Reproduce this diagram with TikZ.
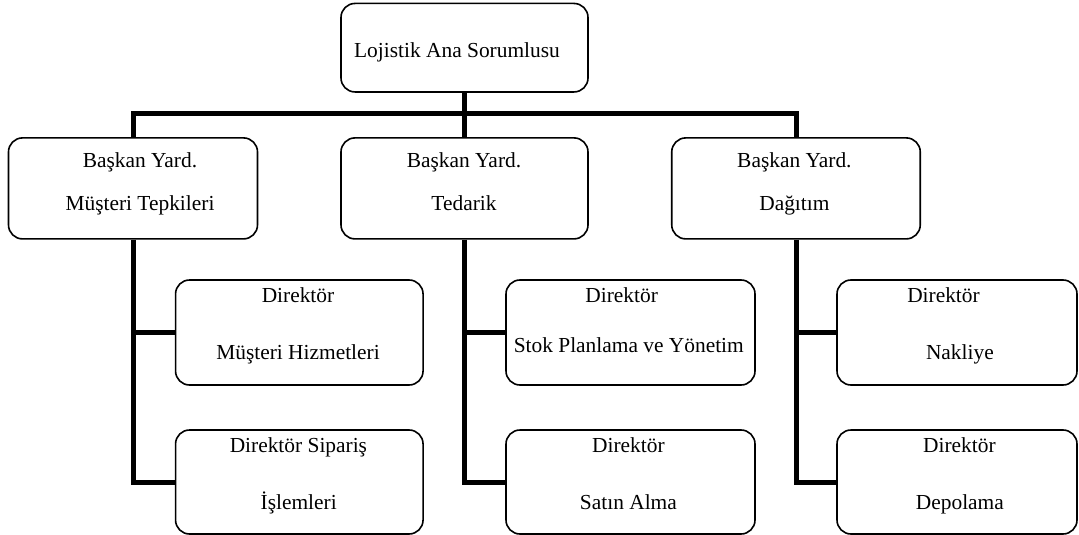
\documentclass[tikz,border=0pt]{standalone}
\usepackage{fontspec}
\setmainfont{Liberation Serif}
\begin{document}
\begin{tikzpicture}[x=1pt,y=-1pt,
  box/.style={draw, line width=1.6pt, rounded corners=14pt, inner sep=0pt, fill=white},
  conn/.style={line width=5pt, line join=miter},
  txt/.style={inner sep=0pt, font=\fontsize{21.4}{25}\selectfont, text height=0.8em, text depth=0.12em}]
\useasboundingbox[fill=white] (0,0) rectangle (1079,535);

% top
\node[box, minimum width=247pt, minimum height=88.5pt] (top) at (464.5,47.7) {};
% level 2
\node[box, minimum width=249pt, minimum height=101pt] (va) at (133,188.4) {};
\node[box, minimum width=247pt, minimum height=101pt] (vb) at (464.5,188.4) {};
\node[box, minimum width=248.5pt, minimum height=101pt] (vc) at (796,188.4) {};
% level 3
\node[box, minimum width=247.5pt, minimum height=105pt] (a1) at (299.3,332.5) {};
\node[box, minimum width=247.5pt, minimum height=104pt] (a2) at (299.3,482) {};
\node[box, minimum width=249pt, minimum height=105pt] (b1) at (630.5,332.5) {};
\node[box, minimum width=249pt, minimum height=104pt] (b2) at (630.5,482) {};
\node[box, minimum width=240pt, minimum height=105pt] (c1) at (957,332.5) {};
\node[box, minimum width=240pt, minimum height=104pt] (c2) at (957,482) {};

% connectors
\coordinate (bus) at (0,113);
\draw[conn] (top.south) -- (vb.north);
\draw[conn] (va.north) -- (va.north |- bus) -- (vc.north |- bus) -- (vc.north);
\draw[conn] (va.south) -- (va.south |- a2.west) -- (a2.west);
\draw[conn] (va.south |- a1.west) -- (a1.west);
\draw[conn] (vb.south) -- (vb.south |- b2.west) -- (b2.west);
\draw[conn] (vb.south |- b1.west) -- (b1.west);
\draw[conn] (vc.south) -- (vc.south |- c2.west) -- (c2.west);
\draw[conn] (vc.south |- c1.west) -- (c1.west);

% texts
\node[txt] (t0) at (457,54) {Lojistik Ana Sorumlusu};
\node[txt] (ta1) at (140,164) {Başkan Yard.};
\node[txt] (ta2) at (140,207.5) {Müşteri Tepkileri};
\node[txt] (tb1) at (464,164) {Başkan Yard.};
\node[txt] (tb2) at (464,207.5) {Tedarik};
\node[txt] (tc1) at (794.4,164) {Başkan Yard.};
\node[txt] (tc2) at (794.4,207.5) {Dağıtım};

\node[txt] (ta11) at (298,299) {Direktör};
\node[txt] (ta12) at (298,356) {Müşteri Hizmetleri};
\node[txt] (ta21) at (298.4,449) {Direktör Sipariş};
\node[txt] (ta22) at (298.7,506) {İşlemleri};

\node[txt] (tb11) at (621.7,299) {Direktör};
\node[txt] (tb12) at (628.8,349) {Stok Planlama ve Yönetim};
\node[txt] (tb21) at (628.4,449) {Direktör};
\node[txt] (tb22) at (628.4,506) {Satın Alma};

\node[txt] (tc11) at (943.5,299) {Direktör};
\node[txt] (tc12) at (959.9,356) {Nakliye};
\node[txt] (tc21) at (959.4,449) {Direktör};
\node[txt] (tc22) at (959.9,506) {Depolama};
\end{tikzpicture}
\end{document}
